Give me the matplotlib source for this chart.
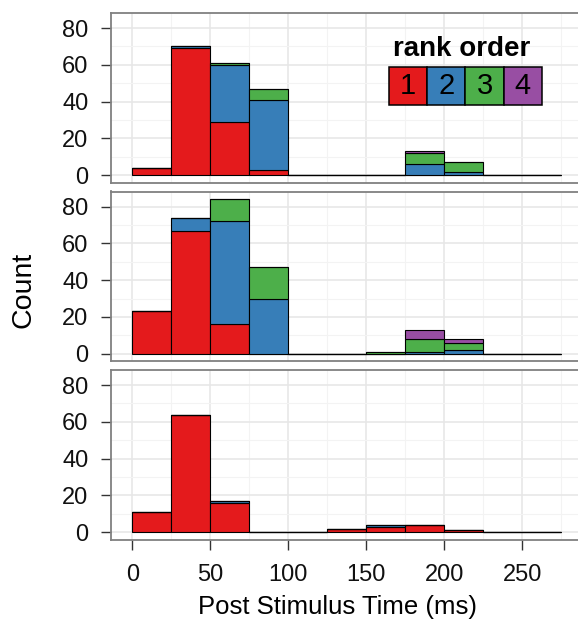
import matplotlib
matplotlib.use("Agg")
import matplotlib.pyplot as plt
from matplotlib.patches import Rectangle
import numpy as np

plt.rcParams['font.family'] = ['Liberation Sans', 'DejaVu Sans']

# histogram bins (left edges, width 25 ms)
bin_left = [0, 25, 50, 75, 100, 125, 150, 175, 200, 225, 250]
bin_width = 25
ranks = ['1', '2', '3', '4']
rank_colors = ['#E41A1C', '#377EB8', '#4DAF4A', '#984EA3']

# counts per panel, one list per rank
top_r1 = [4, 69, 29, 3, 0, 0, 0, 0, 0, 0, 0]
top_r2 = [0, 1, 31, 38, 0, 0, 0, 6, 2, 0, 0]
top_r3 = [0, 0, 1, 6, 0, 0, 0, 6, 5, 0, 0]
top_r4 = [0, 0, 0, 0, 0, 0, 0, 1, 0, 0, 0]

mid_r1 = [23, 67, 16, 0, 0, 0, 0, 0, 0, 0, 0]
mid_r2 = [0, 7, 56, 30, 0, 0, 0, 1, 2, 0, 0]
mid_r3 = [0, 0, 12, 17, 0, 0, 1, 7, 4, 0, 0]
mid_r4 = [0, 0, 0, 0, 0, 0, 0, 5, 2, 0, 0]

bot_r1 = [11, 64, 16, 0, 0, 2, 3, 4, 1, 0, 0]
bot_r2 = [0, 0, 1, 0, 0, 0, 1, 0, 0, 0, 0]
bot_r3 = [0, 0, 0, 0, 0, 0, 0, 0, 0, 0, 0]
bot_r4 = [0, 0, 0, 0, 0, 0, 0, 0, 0, 0, 0]

panels = [
    [top_r1, top_r2, top_r3, top_r4],
    [mid_r1, mid_r2, mid_r3, mid_r4],
    [bot_r1, bot_r2, bot_r3, bot_r4],
]

x_ticks = [0, 50, 100, 150, 200, 250]
y_ticks = [0, 20, 40, 60, 80]

W, H = 578, 620
fig = plt.figure(figsize=(W / 100, H / 100), dpi=100)

left_px = 110.8
width_px = 472.1
tops = [13, 191.5, 370]
height_px = 170

for i, counts in enumerate(panels):
    ax = fig.add_axes([left_px / W, 1 - (tops[i] + height_px) / H, width_px / W, height_px / H])
    ax.set_facecolor('white')
    bottom = np.zeros(len(bin_left))
    for k in range(len(ranks)):
        ax.bar(bin_left, counts[k], width=bin_width, bottom=bottom, align='edge',
               color=rank_colors[k], edgecolor='black', linewidth=0.8, zorder=3)
        bottom = bottom + np.array(counts[k])
    ax.set_xlim(-13.75, 288.75)
    ax.set_ylim(-4.2, 88.2)
    ax.set_xticks(x_ticks)
    ax.set_xticks([25, 75, 125, 175, 225, 275], minor=True)
    ax.set_yticks(y_ticks)
    ax.set_yticks([10, 30, 50, 70], minor=True)
    ax.grid(which='major', color='#E6E6E6', linewidth=1.1, zorder=0)
    ax.grid(which='minor', color='#F3F3F3', linewidth=0.8, zorder=0)
    ax.set_axisbelow(True)
    for s in ax.spines.values():
        s.set_color('#808080')
        s.set_linewidth(1.3)
    ax.tick_params(which='minor', length=0)
    ax.tick_params(axis='y', which='major', length=7, width=1, color='#333333',
                   labelsize=17, pad=9, labelcolor='#111111')
    if i < 2:
        ax.tick_params(axis='x', which='major', length=0, labelbottom=False)
    else:
        ax.tick_params(axis='x', which='major', length=7, width=1, color='#333333',
                       labelsize=17, pad=10, labelcolor='#111111')

fig.text(24 / W, 1 - 290 / H, 'Count', rotation=90, fontsize=20.5, ha='center', va='center')
fig.text(338 / W, 1 - 614 / H, 'Post Stimulus Time (ms)', fontsize=18.5, ha='center', va='baseline')

# legend
fig.text(462 / W, 1 - 55.5 / H, 'rank order', fontsize=20, fontweight='bold',
         ha='center', va='baseline')
box_x0, box_y0, box_w, box_h = 389, 66.7, 38.2, 38.3
for k in range(len(ranks)):
    x0 = box_x0 + k * box_w
    fig.add_artist(Rectangle((x0 / W, 1 - (box_y0 + box_h) / H), box_w / W, box_h / H,
                             transform=fig.transFigure, facecolor=rank_colors[k],
                             edgecolor='black', linewidth=1.1))
    fig.text((x0 + box_w / 2) / W, 1 - (box_y0 + box_h / 2) / H, ranks[k],
             fontsize=21, ha='center', va='center', color='black')

fig.savefig('out.png', dpi=100)
